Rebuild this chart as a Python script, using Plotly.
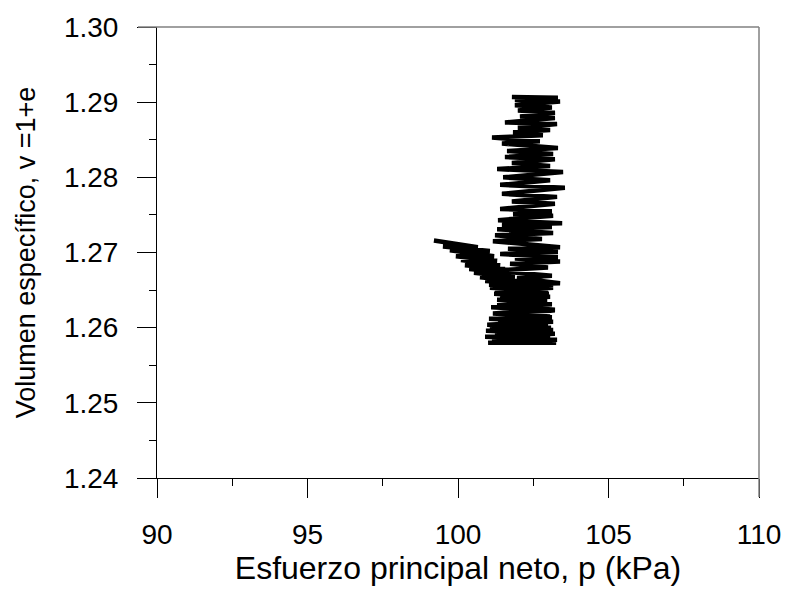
import plotly.graph_objects as go

# Net mean stress p (kPa) and specific volume v = 1 + e along the test path
p_kpa = [
    99.20, 100.66, 99.50, 101.06, 99.73, 101.20, 99.93, 101.30, 100.10, 101.40,
    100.23, 101.56, 100.37, 101.73, 100.53, 101.89, 100.73, 102.06, 100.90,
    103.16, 101.06, 102.99, 101.20, 103.06, 101.30, 103.12, 101.10, 103.22, 101.26,
    103.06, 101.03, 103.16, 100.97, 103.09, 100.93, 103.22, 100.90, 103.29, 101.00,
    103.26,
    101.13, 103.06, 101.23, 103.16, 101.06, 102.99, 101.33, 103.12, 101.16, 103.22,
    101.30, 102.96, 101.40, 103.02, 101.23, 103.16, 101.03,
    103.39, 101.96, 103.12, 101.16, 102.99, 101.73, 103.39, 101.89, 103.32, 101.40,
    103.32, 101.66, 103.39, 101.16, 102.79, 101.23, 103.16, 101.30, 103.12, 101.46,
    103.46, 101.33, 103.16, 101.83, 103.12, 101.40, 103.22, 101.79, 103.29, 101.46,
    103.55, 101.40, 103.06, 101.50, 103.49, 101.30, 103.06, 101.79, 103.22, 101.56,
    103.16, 101.63, 103.32, 101.46, 102.72, 101.13, 102.82, 101.83, 103.06, 101.99,
    103.29, 101.56, 103.22, 102.06, 103.22, 101.99, 103.12, 101.89, 103.39, 101.89,
    103.32, 101.79,
]
v_spec = [
    1.2716, 1.2707, 1.2708, 1.2702, 1.2703, 1.2695, 1.2695, 1.2689, 1.2690, 1.2683,
    1.2683, 1.2678, 1.2678, 1.2673, 1.2673, 1.2667, 1.2667, 1.2662, 1.2662,
    1.2657, 1.2653, 1.2649, 1.2645, 1.2641, 1.2637, 1.2631, 1.2627, 1.2623, 1.2619,
    1.2615, 1.2612, 1.2608, 1.2604, 1.2600, 1.2596, 1.2592, 1.2588, 1.2584, 1.2580,
    1.2580,
    1.2585, 1.2589, 1.2593, 1.2597, 1.2602, 1.2606, 1.2610, 1.2614, 1.2619, 1.2624,
    1.2630, 1.2635, 1.2640, 1.2645, 1.2649, 1.2653, 1.2657,
    1.2659, 1.2666, 1.2669, 1.2676, 1.2680, 1.2685, 1.2688, 1.2692, 1.2694, 1.2698,
    1.2701, 1.2705, 1.2707, 1.2715, 1.2718, 1.2723, 1.2726, 1.2731, 1.2734, 1.2737,
    1.2739, 1.2743, 1.2749, 1.2751, 1.2755, 1.2758, 1.2765, 1.2768, 1.2774, 1.2778,
    1.2786, 1.2790, 1.2796, 1.2800, 1.2807, 1.2811, 1.2815, 1.2819, 1.2824, 1.2827,
    1.2831, 1.2835, 1.2839, 1.2845, 1.2848, 1.2853, 1.2856, 1.2860, 1.2863, 1.2866,
    1.2871, 1.2873, 1.2879, 1.2881, 1.2886, 1.2889, 1.2893, 1.2896, 1.2901, 1.2903,
    1.2906, 1.2907,
]

x_ticks = [90, 95, 100, 105, 110]
y_ticks = [1.24, 1.25, 1.26, 1.27, 1.28, 1.29, 1.30]
y_tick_text = ["1.24", "1.25", "1.26", "1.27", "1.28", "1.29", "1.30"]

FONT = "Arial, Liberation Sans, sans-serif"
TICK_FS = 28

fig = go.Figure()
fig.add_trace(go.Scatter(
    x=p_kpa, y=v_spec, mode="lines",
    line=dict(color="black", width=4.5),
    hoverinfo="x+y", showlegend=False,
))

axis_common = dict(
    showgrid=False, zeroline=False, automargin=False,
    showline=True, linecolor="black", linewidth=1,
    ticks="outside", ticklen=19, tickwidth=1, tickcolor="black",
    tickfont=dict(family=FONT, size=TICK_FS, color="black"),
)

fig.update_xaxes(
    range=[90, 110], tickvals=x_ticks, ticktext=[str(t) for t in x_ticks],
    minor=dict(ticks="outside", ticklen=7, tickwidth=1, tickcolor="black", dtick=2.5, tick0=90),
    title=dict(text="Esfuerzo principal neto, p (kPa)",
               font=dict(family=FONT, size=32, color="black"), standoff=6),
    ticklabelstandoff=12,
    **axis_common,
)
fig.update_yaxes(
    range=[1.24, 1.30], tickvals=y_ticks, ticktext=y_tick_text,
    minor=dict(ticks="outside", ticklen=7, tickwidth=1, tickcolor="black", dtick=0.005, tick0=1.24),
    title=dict(text="Volumen específico, v =1+e",
               font=dict(family=FONT, size=27, color="black"), standoff=20),
    ticklabelstandoff=13,
    **axis_common,
)

# Grey frame on the top and right sides
fig.add_shape(type="line", xref="x domain", yref="y domain",
              x0=-19 / 602, x1=1, y0=1, y1=1,
              line=dict(color="#808080", width=1.5), layer="above")
fig.add_shape(type="line", xref="x domain", yref="y domain",
              x0=1, x1=1, y0=-19 / 451, y1=1,
              line=dict(color="#808080", width=1.5), layer="above")

fig.update_layout(
    width=785, height=594,
    margin=dict(l=157, r=26, t=27, b=116),
    plot_bgcolor="white", paper_bgcolor="white",
    font=dict(family=FONT, color="black"),
)

fig.write_html("out.html")
